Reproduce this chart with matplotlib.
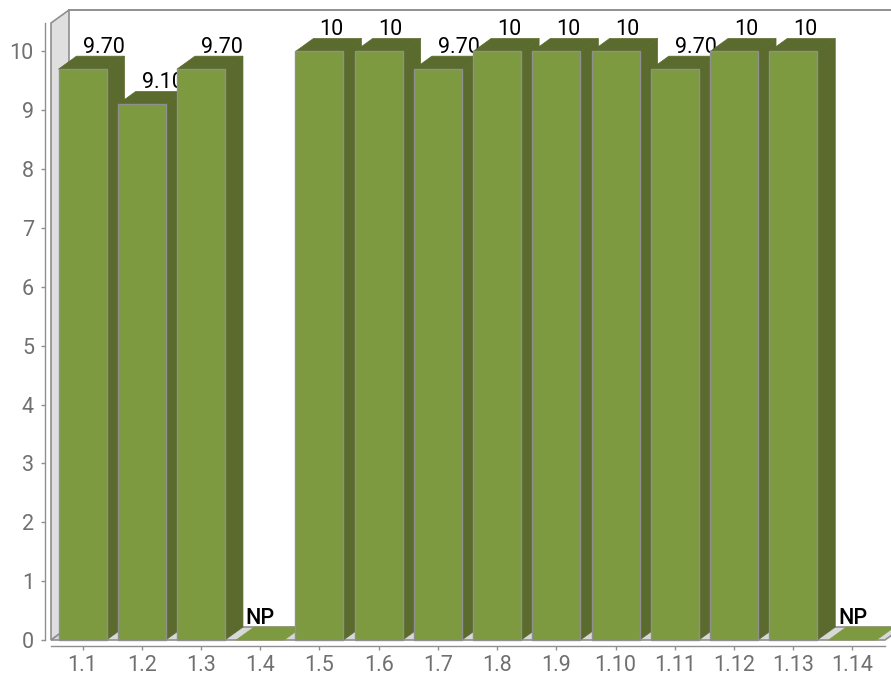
#!/usr/bin/env python3
"""Barres 3D (faux relief) : notes par critere"""

import matplotlib
matplotlib.use('Agg')
import matplotlib.pyplot as plt
from matplotlib.patches import Polygon

categories = ['1.1', '1.2', '1.3', '1.4', '1.5', '1.6', '1.7',
              '1.8', '1.9', '1.10', '1.11', '1.12', '1.13', '1.14']
valeurs = [9.7, 9.1, 9.7, 0, 10, 10, 9.7, 10, 10, 10, 9.7, 10, 10, 0]
etiquettes = ['9.70', '9.10', '9.70', 'NP', '10', '10', '9.70',
              '10', '10', '10', '9.70', '10', '10', 'NP']

W, H = 891, 676
plt.rcParams['font.family'] = ['Roboto', 'DejaVu Sans']

# Echelles en pixels de la figure
PX_X = 59.23
PX_Y = 58.85
DX = 18 / PX_X      # profondeur du relief
DY = 13 / PX_Y
LARGEUR = 48 / PX_X

VERT = '#7d9a40'
VERT_FONCE = '#5a6b2d'
GRIS = '#8f8f8f'
MUR = '#dfdfdf'
SOL = '#d8d8d8'

fig = plt.figure(figsize=(W / 100, H / 100), dpi=100)
gauche, droite, haut, bas = 51, 885, 23, 640
ax = fig.add_axes([gauche / W, 1 - bas / H, (droite - gauche) / W, (bas - haut) / H])
ax.set_xlim((gauche - 82.5) / PX_X, (droite - 82.5) / PX_X)
ax.set_ylim(0, (bas - haut) / PX_Y)
ax.patch.set_visible(False)

x0, x1 = ax.get_xlim()
y1 = ax.get_ylim()[1]

# Mur gauche, sol et bord du fond
ax.add_patch(Polygon([(x0, 0), (x0 + DX, DY), (x0 + DX, y1 + DY), (x0, y1)],
                     facecolor=MUR, edgecolor=GRIS, lw=1.2, clip_on=False, zorder=1))
ax.add_patch(Polygon([(x0, 0), (x1, 0), (x1 + DX, DY), (x0 + DX, DY)],
                     facecolor=SOL, edgecolor=GRIS, lw=1.2, clip_on=False, zorder=1))
ax.plot([x0 + DX, x1 + DX], [y1 + DY, y1 + DY], color=GRIS, lw=1.4, clip_on=False, zorder=1)

# Les barres sont dessinees de gauche a droite : chaque barre cache
# le debut de l'etiquette de la precedente, comme sur l'original
z = 2
for i, v in enumerate(valeurs):
    g = i - LARGEUR / 2
    d = i + LARGEUR / 2
    if v > 0:
        ax.add_patch(Polygon([(d, 0), (d + DX, DY), (d + DX, v + DY), (d, v)],
                             facecolor=VERT_FONCE, edgecolor=VERT_FONCE, lw=0.5,
                             clip_on=False, zorder=z))
        ax.add_patch(Polygon([(g, v), (d, v), (d + DX, v + DY), (g + DX, v + DY)],
                             facecolor=VERT_FONCE, edgecolor=VERT_FONCE, lw=0.5,
                             clip_on=False, zorder=z))
        ax.bar(i, v, width=LARGEUR, color=VERT, edgecolor=GRIS, lw=1.0,
               clip_on=False, zorder=z + 0.5)
        ax.text(i, v + DY + 3 / PX_Y, etiquettes[i], ha='left', va='baseline',
                fontsize=15.5, color='black', clip_on=False, zorder=z + 0.7)
    else:
        ax.add_patch(Polygon([(g, 0), (d, 0), (d + DX, DY), (g + DX, DY)],
                             facecolor=VERT, edgecolor=VERT, lw=0.5,
                             clip_on=False, zorder=z))
        ax.text(i, DY + 3 / PX_Y, etiquettes[i], ha='center', va='baseline',
                fontsize=15.5, fontweight='medium', color='black',
                clip_on=False, zorder=z + 0.7)
    z += 1

# Axes decales du graphique
for cote in ['top', 'right']:
    ax.spines[cote].set_visible(False)
for cote in ['left', 'bottom']:
    ax.spines[cote].set_position(('outward', 4.3))
    ax.spines[cote].set_color(GRIS)
    ax.spines[cote].set_linewidth(1.0)

ax.set_xticks(range(len(categories)))
ax.set_xticklabels(categories)
ax.set_yticks(range(0, 11))
ax.tick_params(axis='both', colors=GRIS, labelcolor='#707070', labelsize=15.5,
               length=3, width=1.0)
ax.tick_params(axis='x', pad=3.5)
ax.tick_params(axis='y', pad=5)

fig.savefig('out.png', dpi=100)
